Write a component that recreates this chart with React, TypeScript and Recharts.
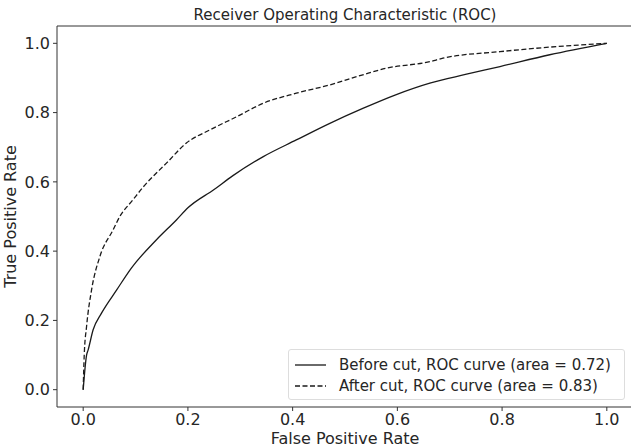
import React from 'react'
import { LineChart, Line, XAxis, YAxis, ReferenceLine } from 'recharts'

const beforeFpr = [0, 0.0065, 0.0095, 0.019, 0.035, 0.064, 0.092, 0.14, 0.178, 0.2, 0.25, 0.286, 0.344, 0.407, 0.471, 0.534, 0.598, 0.662, 0.73, 0.796, 0.891, 1.0]
const beforeTpr = [0, 0.1, 0.115, 0.173, 0.221, 0.288, 0.351, 0.433, 0.49, 0.525, 0.578, 0.618, 0.673, 0.721, 0.769, 0.812, 0.852, 0.885, 0.91, 0.933, 0.967, 1.0]

const afterFpr = [0, 0.002, 0.0065, 0.016, 0.032, 0.057, 0.07, 0.095, 0.115, 0.159, 0.197, 0.242, 0.293, 0.344, 0.407, 0.471, 0.534, 0.579, 0.662, 0.687, 0.796, 0.891, 1.0]
const afterTpr = [0, 0.1, 0.183, 0.288, 0.385, 0.461, 0.5, 0.548, 0.586, 0.654, 0.712, 0.75, 0.788, 0.827, 0.856, 0.88, 0.909, 0.928, 0.947, 0.957, 0.976, 0.989, 1.0]

const ticks = [0, 0.2, 0.4, 0.6, 0.8, 1.0]
const beforeLabel = 'Before cut, ROC curve (area = 0.72)'
const afterLabel = 'After cut, ROC curve (area = 0.83)'

const beforeData = beforeFpr.map((x, i) => ({ fpr: x, tpr: beforeTpr[i] }))
const afterData = afterFpr.map((x, i) => ({ fpr: x, tpr: afterTpr[i] }))

const FONT = '"DejaVu Sans", sans-serif'
const TXT = '#262626'
const SPINE = '#333333'

function RocLegend() {
  const rows = [
    { label: beforeLabel, dash: undefined },
    { label: afterLabel, dash: '5 2.5' },
  ]
  return (
    <div
      style={{
        position: 'absolute',
        left: 288,
        top: 349,
        width: 337,
        height: 51,
        boxSizing: 'border-box',
        border: '1px solid #dddddd',
        borderRadius: 3,
        background: 'rgba(255,255,255,0.85)',
        padding: '4px 0 0 6px',
        fontFamily: FONT,
        fontSize: 15,
        color: TXT,
      }}
    >
      {rows.map((r) => (
        <div key={r.label} style={{ display: 'flex', alignItems: 'center', height: 21 }}>
          <svg width={32} height={10} style={{ marginRight: 12 }}>
            <line x1={0} y1={5} x2={31} y2={5} stroke="#1a1a1a" strokeWidth={1.3} strokeDasharray={r.dash} />
          </svg>
          <span>{r.label}</span>
        </div>
      ))}
    </div>
  )
}

export default function App() {
  return (
    <div style={{ position: 'absolute', left: 0, top: 0, width: 631, height: 447, overflow: 'hidden', background: '#fff' }}>
      <div
        style={{
          position: 'absolute',
          left: 0,
          width: 690,
          top: 6,
          textAlign: 'center',
          fontFamily: FONT,
          fontSize: 15,
          color: TXT,
        }}
      >
        Receiver Operating Characteristic (ROC)
      </div>
      <LineChart width={640} height={447} margin={{ top: 26, right: 7, left: 7, bottom: 9 }}>
        <XAxis
          type="number"
          dataKey="fpr"
          domain={[-0.05, 1.05]}
          ticks={ticks}
          tickFormatter={(v: number) => v.toFixed(1)}
          allowDataOverflow
          height={31}
          stroke={SPINE}
          tickSize={4}
          tickMargin={3}
          tick={{ fontSize: 16, fill: TXT, fontFamily: FONT }}
          label={{ value: 'False Positive Rate', position: 'insideBottom', offset: -6, fontSize: 16, fill: TXT, fontFamily: FONT }}
        />
        <YAxis
          type="number"
          dataKey="tpr"
          domain={[-0.05, 1.05]}
          ticks={ticks}
          tickFormatter={(v: number) => v.toFixed(1)}
          allowDataOverflow
          width={50}
          stroke={SPINE}
          tickSize={4}
          tickMargin={3}
          tick={{ fontSize: 16, fill: TXT, fontFamily: FONT }}
          label={{ value: 'True Positive Rate', angle: -90, position: 'insideLeft', offset: 3, style: { textAnchor: 'middle' }, fontSize: 16, fill: TXT, fontFamily: FONT }}
        />
        <ReferenceLine y={1.05} stroke={SPINE} strokeWidth={1} />
        <Line
          data={beforeData}
          dataKey="tpr"
          name={beforeLabel}
          type="monotoneX"
          stroke="#1a1a1a"
          strokeWidth={1.3}
          dot={false}
          activeDot={false}
          isAnimationActive={false}
        />
        <Line
          data={afterData}
          dataKey="tpr"
          name={afterLabel}
          type="monotoneX"
          stroke="#1a1a1a"
          strokeWidth={1.3}
          strokeDasharray="5 2.5"
          dot={false}
          activeDot={false}
          isAnimationActive={false}
        />
      </LineChart>
      <RocLegend />
    </div>
  )
}
